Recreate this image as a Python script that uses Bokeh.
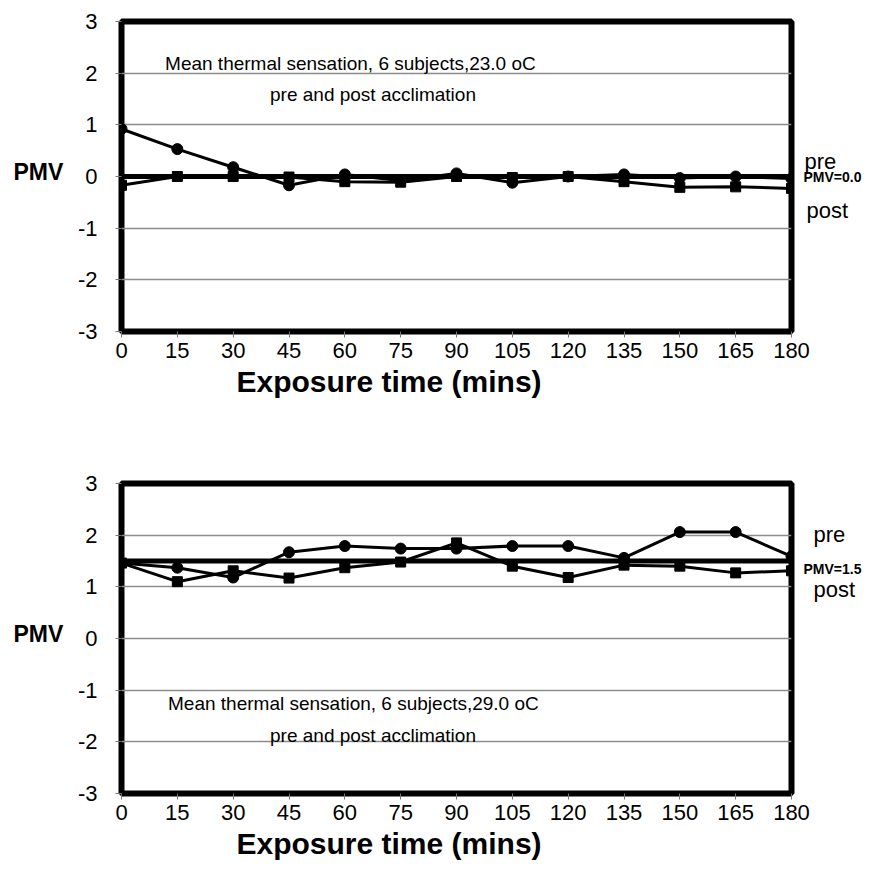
from bokeh.plotting import figure
from bokeh.layouts import column, row
from bokeh.models import Range1d, FixedTicker, ColumnDataSource, Title
from bokeh.core.properties import value
from bokeh.embed import file_html
from bokeh.resources import INLINE

# Exposure time in minutes
minutes = [0, 15, 30, 45, 60, 75, 90, 105, 120, 135, 150, 165, 180]
pmv_ticks = [-3, -2, -1, 0, 1, 2, 3]
pmv_tick_text = ["-3", "-2", "-1", "0", "1", "2", "3"]

# Mean thermal sensation at 23.0 oC
cool_pre = [0.92, 0.53, 0.18, -0.17, 0.04, -0.08, 0.06, -0.12, 0.0, 0.04, -0.03, 0.0, -0.04]
cool_post = [-0.17, 0.0, 0.0, -0.01, -0.10, -0.11, 0.0, -0.02, 0.0, -0.10, -0.21, -0.20, -0.23]
cool_pmv = 0.0

# Mean thermal sensation at 29.0 oC
warm_pre = [1.46, 1.37, 1.18, 1.67, 1.79, 1.74, 1.74, 1.79, 1.79, 1.56, 2.06, 2.06, 1.59]
warm_post = [1.46, 1.10, 1.31, 1.17, 1.37, 1.48, 1.85, 1.40, 1.18, 1.42, 1.40, 1.27, 1.31]
warm_pmv = 1.5

FONT = "Liberation Sans"
PANEL_H = 441
LEFT_W, MAIN_W, RIGHT_W = 70, 743, 78
OVERLAP = 19  # right strip slides over the main canvas's spare right border


def side(width, border_top, border_bottom):
    """Blank strip beside the chart, sharing its vertical scale, for free text."""
    s = figure(width=width, height=PANEL_H, output_backend="svg", toolbar_location=None,
               x_range=Range1d(0, width), y_range=Range1d(-3, 3),
               x_axis_type=None, y_axis_type=None,
               min_border_left=0, min_border_right=0,
               min_border_top=border_top, min_border_bottom=border_bottom)
    s.outline_line_color = None
    s.grid.visible = False
    s.background_fill_alpha = 0
    s.border_fill_alpha = 0
    return s


def put_text(fig, x, y, txt, size, bold=False):
    fig.text(x=[x], y=[y], text=[txt], text_font=value(FONT), text_font_size=size,
             text_font_style="bold" if bold else "normal", text_color="black",
             text_baseline="alphabetic", text_align="left")


def panel(pre, post, pmv, notes, right_text, border_top, border_bottom):
    p = figure(width=MAIN_W, height=PANEL_H, output_backend="svg", toolbar_location=None,
               x_range=Range1d(0, 180), y_range=Range1d(-3, 3),
               min_border_left=51, min_border_right=3 + OVERLAP,
               min_border_top=border_top, min_border_bottom=border_bottom)
    p.background_fill_color = "white"
    p.border_fill_color = "white"
    p.outline_line_color = "black"
    p.outline_line_width = 6

    p.xgrid.visible = False
    p.ygrid.ticker = FixedTicker(ticks=pmv_ticks)
    p.ygrid.grid_line_color = "#8c8c8c"
    p.ygrid.grid_line_width = 1.4

    for ax in (p.xaxis[0], p.yaxis[0]):
        ax.axis_line_color = None
        ax.major_tick_line_color = "#777777"
        ax.major_tick_line_width = 1
        ax.major_tick_in = 0
        ax.major_tick_out = 6
        ax.minor_tick_line_color = None
        ax.major_label_text_font = FONT
        ax.major_label_text_font_size = "22px"
        ax.major_label_text_color = "black"

    p.xaxis.ticker = FixedTicker(ticks=minutes)
    p.yaxis.ticker = FixedTicker(ticks=pmv_ticks)
    p.yaxis.major_label_overrides = dict(zip(pmv_ticks, pmv_tick_text))
    p.xaxis.major_label_standoff = 5
    p.yaxis.major_label_standoff = 18

    p.add_layout(Title(text="Exposure time (mins)", align="left", offset=115,
                       text_font=FONT, text_font_style="bold", text_font_size="30px",
                       text_color="black", standoff=4), "below")

    # neutral reference line
    p.line(x=[minutes[0], minutes[-1]], y=[pmv, pmv], line_color="black", line_width=5)

    src = ColumnDataSource(dict(t=minutes, pre=pre, post=post))
    p.line("t", "pre", source=src, line_color="black", line_width=3)
    p.scatter("t", "pre", source=src, marker="circle", size=11, fill_color="black", line_color="black")
    p.line("t", "post", source=src, line_color="black", line_width=3)
    p.scatter("t", "post", source=src, marker="square", size=10, fill_color="black", line_color="black")

    for x, y, txt in notes:
        put_text(p, x, y, txt, "19px")

    left = side(LEFT_W, border_top, border_bottom)
    left.background_fill_alpha = 1
    left.border_fill_alpha = 1
    put_text(left, 13, 0.09, "PMV", "23px", bold=True)

    right = side(RIGHT_W, border_top, border_bottom)
    right.margin = (0, 0, 0, -OVERLAP)
    (pre_x, pre_y), (pmv_x, pmv_y), (post_x, post_y) = right_text
    put_text(right, pre_x, pre_y, "pre", "22px")
    put_text(right, pmv_x, pmv_y, "PMV=%.1f" % pmv, "14px", bold=True)
    put_text(right, post_x, post_y, "post", "22px")

    return row(left, p, right, spacing=0)


top = panel(cool_pre, cool_post, cool_pmv,
            [(11.7, 2.18, "Mean thermal sensation, 6 subjects,23.0 oC"),
             (39.9, 1.58, "pre and post acclimation")],
            ((10, 0.30), (9, 0.0), (12, -0.66)),
            21, 110)

bottom = panel(warm_pre, warm_post, warm_pmv,
               [(12.5, -1.25, "Mean thermal sensation, 6 subjects,29.0 oC"),
                (39.9, -1.87, "pre and post acclimation")],
               ((19, 2.02), (9, 1.35), (19, 0.94)),
               42, 89)

layout = column(top, bottom, spacing=0)
open("out.html", "w").write(file_html(layout, INLINE))
